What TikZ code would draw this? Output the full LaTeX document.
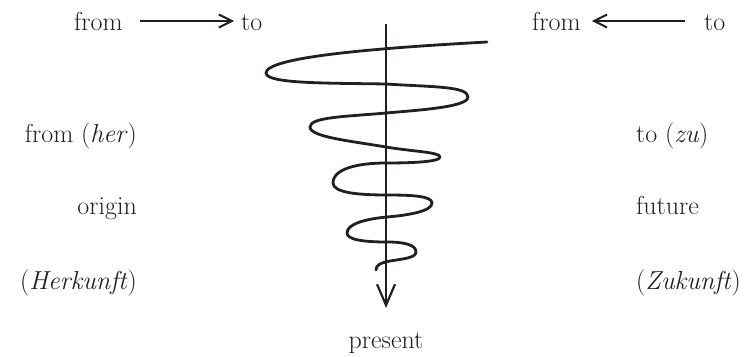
\documentclass[tikz,border=0pt]{standalone}
\usetikzlibrary{arrows.meta}
\definecolor{ink}{HTML}{231F20}
\begin{document}
\begin{tikzpicture}[x=1pt,y=-1pt,
  lbl/.style={font=\fontsize{26}{31}\selectfont, inner sep=0pt, text=ink},
  toprow/.style={lbl, text height=18pt, text depth=0pt, anchor=west},
  arr/.style={draw=ink, line width=2pt, -{Straight Barb[length=13pt,width=13pt,line width=2pt]}},
  axis/.style={draw=ink, line width=2.2pt, -{Straight Barb[length=21pt,width=18pt,line width=2.2pt]}},
  spiral/.style={draw=ink, line width=2.8pt, line cap=round, line join=round}]
\useasboundingbox (0,0) rectangle (749,356);

% top row
\node[toprow] (f1) at (74,21) {from};
\node[toprow] (t1) at (241,21) {to};
\draw[arr] ([xshift=17pt]f1.east) -- ([xshift=-7pt]t1.west);
\node[toprow] (f2) at (532,21) {from};
\node[toprow] (t2) at (704,21) {to};
\draw[arr] ([xshift=-19pt]t2.west) -- ([xshift=11pt]f2.east);

% side labels
\node[lbl, anchor=base east] (her) at (137,142) {from (\textit{her})};
\node[lbl, anchor=base east] (orig) at (137,214) {origin};
\node[lbl, anchor=base east] (herk) at (137,289) {(\textit{Herkunft})};
\node[lbl, anchor=base west] (zu) at (636,142) {to (\textit{zu})};
\node[lbl, anchor=base west] (fut) at (636,214) {future};
\node[lbl, anchor=base west] (zuk) at (636,289) {(\textit{Zukunft})};
\node[lbl, anchor=base] (pres) at (386,348) {present};

% spiral
\draw[spiral] (487,42)
  .. controls (377,48) and (266,57) .. (266,73)
  .. controls (266,84) and (330,83) .. (386,84)
  .. controls (431,87) and (468,86) .. (468,97)
  .. controls (468,107) and (420,110) .. (386,113)
  .. controls (346,116.6) and (310,117) .. (310,127)
  .. controls (310,137) and (351,141) .. (386,147)
  .. controls (412,151.5) and (440,152) .. (440,157)
  .. controls (440,162) and (410,163) .. (386,163)
  .. controls (360,163) and (333,168) .. (333,183)
  .. controls (333,193) and (360,195) .. (387,195)
  .. controls (412,195) and (432,196) .. (432,203)
  .. controls (432,211) and (410,215) .. (387,217)
  .. controls (365,219) and (347,224) .. (347,233)
  .. controls (347,240) and (365,242) .. (387,242)
  .. controls (405,242) and (416,245) .. (416,252)
  .. controls (416,258) and (402,259) .. (390,261)
  .. controls (380,263) and (376,265) .. (376,270);

% axis
\coordinate (atop) at (386,24);
\coordinate (abot) at (386,308);
\draw[axis] (atop) -- (abot);
\end{tikzpicture}
\end{document}
